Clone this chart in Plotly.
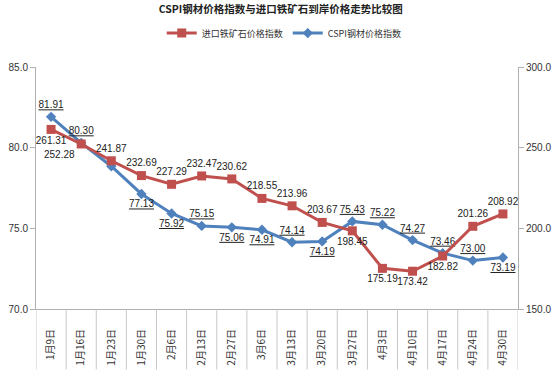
import plotly.graph_objects as go

dates = ["1月9日", "1月16日", "1月23日", "1月30日", "2月6日", "2月13日", "2月27日", "3月6日",
         "3月13日", "3月20日", "3月27日", "4月3日", "4月10日", "4月17日", "4月24日", "4月30日"]
ore_index = [261.31, 252.28, 241.87, 232.69, 227.29, 232.47, 230.62, 218.55,
             213.96, 203.67, 198.45, 175.19, 173.42, 182.82, 201.26, 208.92]
cspi_index = [81.91, 80.30, 78.85, 77.13, 75.92, 75.15, 75.06, 74.91,
              74.14, 74.19, 75.43, 75.22, 74.27, 73.46, 73.00, 73.19]

ore_pos = ["bottom center", "bottom left", "top center", "top center", "top center", "top center",
           "top center", "top center", "top center", "top center", "bottom center", "bottom center",
           "bottom center", "bottom center", "top center", "top center"]
cspi_pos = ["top center", "top center", "top center", "bottom center", "bottom center", "top center",
            "bottom center", "bottom center", "top center", "bottom center", "top center", "top center",
            "top center", "top center", "top center", "bottom center"]
cspi_text = ["%.2f" % v for v in cspi_index]
cspi_text[2] = ""

RED = "#C0504D"
BLUE = "#4F81BD"
NUMFONT = "Liberation Sans"
CJK = "Noto Sans CJK SC"

fig = go.Figure()
fig.add_trace(go.Scatter(
    x=dates, y=ore_index, name="进口铁矿石价格指数", yaxis="y2",
    mode="lines+markers+text", line=dict(color=RED, width=3),
    marker=dict(symbol="square", size=9, color=RED),
    text=["%.2f" % v for v in ore_index], textposition=ore_pos,
    textfont=dict(family=NUMFONT, size=10, color="#222"),
))
fig.add_trace(go.Scatter(
    x=dates, y=cspi_index, name="CSPI钢材价格指数", yaxis="y",
    mode="lines+markers+text", line=dict(color=BLUE, width=3),
    marker=dict(symbol="diamond", size=8, color=BLUE),
    text=cspi_text, textposition=cspi_pos,
    textfont=dict(family=NUMFONT, size=10, color="#222", lineposition="under"),
))

n = len(dates)
shapes = []
for i in range(n + 1):
    shapes.append(dict(type="line", xref="x", yref="paper", x0=i - 0.5, x1=i - 0.5,
                       y0=0, y1=-0.25, line=dict(color="#c8c8c8", width=1)))

fig.update_layout(
    width=556, height=383,
    margin=dict(l=36, r=38, t=67, b=74, autoexpand=False),
    paper_bgcolor="white", plot_bgcolor="white",
    title=dict(text="<b>CSPI钢材价格指数与进口铁矿石到岸价格走势比较图</b>",
               font=dict(family=CJK, size=10.5, color="#222"),
               x=0.505, xanchor="center", y=0.984, yanchor="top"),
    legend=dict(orientation="h", x=0.515, xanchor="center", y=1.14, yanchor="middle",
                font=dict(family=CJK, size=9, color="#333"), traceorder="normal",
                itemwidth=30),
    showlegend=True,
    xaxis=dict(type="category", range=[-0.5, n - 0.5], tickangle=-90,
               showline=True, linecolor="#b0b0b0", showgrid=False, ticks="",
               ticklabelstandoff=15,
               tickfont=dict(family=CJK, size=10, color="#333")),
    yaxis=dict(range=[70, 85], dtick=5, tickformat=".1f", showgrid=False,
               showline=True, linecolor="#b0b0b0", ticks="outside", ticklen=5,
               tickcolor="#b0b0b0", zeroline=False,
               tickfont=dict(family=NUMFONT, size=10, color="#333")),
    yaxis2=dict(range=[150, 300], dtick=50, tickformat=".1f", showgrid=False,
                overlaying="y", side="right",
                showline=True, linecolor="#b0b0b0", ticks="outside", ticklen=5,
                tickcolor="#b0b0b0", zeroline=False,
                tickfont=dict(family=NUMFONT, size=10, color="#333")),
    shapes=shapes,
)

fig.write_html("out.html", config={"displayModeBar": False},
               post_script="document.body.style.margin='0px';")
